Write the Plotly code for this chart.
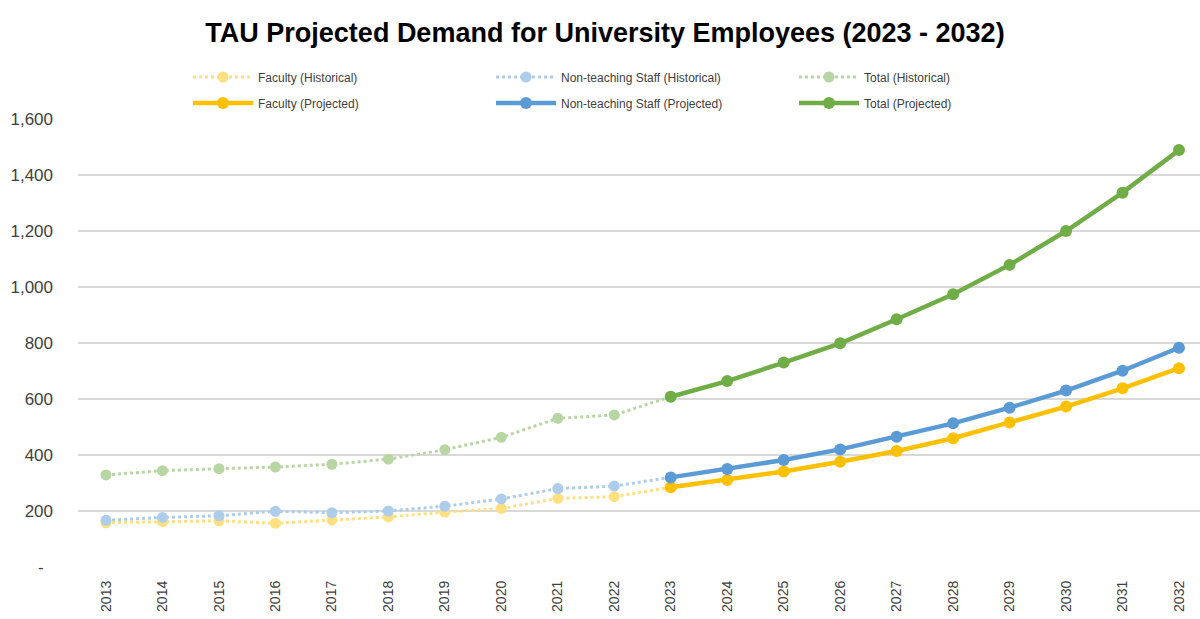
import plotly.graph_objects as go

# Years
years_hist = [2013, 2014, 2015, 2016, 2017, 2018, 2019, 2020, 2021, 2022, 2023]
years_proj = [2023, 2024, 2025, 2026, 2027, 2028, 2029, 2030, 2031, 2032]

# Historical headcounts (2013-2023)
faculty_hist = [158, 162, 165, 156, 168, 179, 196, 209, 245, 251, 285]
staff_hist = [167, 177, 183, 199, 194, 200, 217, 243, 280, 289, 320]
total_hist = [329, 344, 351, 357, 367, 385, 419, 463, 531, 543, 608]

# Projected headcounts (2023-2032)
faculty_proj = [285, 311, 341, 376, 414, 460, 516, 573, 638, 710]
staff_proj = [320, 350, 382, 420, 465, 513, 569, 630, 701, 783]
total_proj = [608, 664, 730, 799, 885, 974, 1079, 1200, 1337, 1489]

# Axis ticks
y_tickvals = [0, 200, 400, 600, 800, 1000, 1200, 1400, 1600]
y_ticktext = ["-\u00a0\u00a0", "200", "400", "600", "800", "1,000", "1,200", "1,400", "1,600"]
x_ticktext = [str(y) for y in range(2013, 2033)]

FONT = "Liberation Sans Narrow, Arial Narrow, Liberation Sans, Arial, sans-serif"

C_FAC, C_STF, C_TOT = "#FFC000", "#5B9BD5", "#70AD47"
C_FAC_L, C_STF_L, C_TOT_L = "#FFE080", "#ADCDEA", "#B8D6A3"

fig = go.Figure()

hist = [
    ("Faculty (Historical)", faculty_hist, C_FAC_L),
    ("Non-teaching Staff (Historical)", staff_hist, C_STF_L),
    ("Total (Historical)", total_hist, C_TOT_L),
]
for name, vals, col in hist:
    fig.add_trace(go.Scatter(
        x=years_hist, y=vals, name=name, mode="lines+markers",
        line=dict(color=col, width=3, dash="dot"),
        marker=dict(color=col, size=11, symbol="circle"),
        legend="legend",
    ))

proj = [
    ("Faculty (Projected)", faculty_proj, C_FAC),
    ("Non-teaching Staff (Projected)", staff_proj, C_STF),
    ("Total (Projected)", total_proj, C_TOT),
]
for name, vals, col in proj:
    fig.add_trace(go.Scatter(
        x=years_proj, y=vals, name=name, mode="lines+markers",
        line=dict(color=col, width=4.5),
        marker=dict(color=col, size=12, symbol="circle"),
        legend="legend2",
    ))

legend_common = dict(
    orientation="h", xref="container", yref="container",
    x=188 / 1200, xanchor="left", yanchor="middle",
    entrywidth=228, entrywidthmode="pixels", itemwidth=60,
    font=dict(family=FONT, size=12, color="#404040"),
    bgcolor="rgba(0,0,0,0)", traceorder="normal",
)

fig.update_layout(
    width=1200, height=619,
    paper_bgcolor="white", plot_bgcolor="white",
    margin=dict(l=78, r=0, t=119, b=52, autoexpand=False),
    title=dict(
        text="<b>TAU Projected Demand for University Employees (2023 - 2032)</b>",
        x=605 / 1200, xanchor="center", xref="container",
        y=1 - 33 / 619, yanchor="middle", yref="container",
        font=dict(family=FONT, size=27, color="#000000"),
    ),
    legend=dict(y=1 - 77 / 619, **legend_common),
    legend2=dict(y=1 - 103 / 619, **legend_common),
    font=dict(family=FONT, color="#404040"),
)

fig.update_xaxes(
    range=[2012.504, 2032.372], tickvals=list(range(2013, 2033)), ticktext=x_ticktext,
    tickangle=-90, showgrid=False, zeroline=False, showline=False,
    tickfont=dict(family=FONT, size=14, color="#404040"), ticklabelstandoff=10,
)
fig.update_yaxes(
    range=[0, 1600], tickvals=y_tickvals, ticktext=y_ticktext,
    showgrid=True, gridcolor="#D9D9D9", gridwidth=2, zeroline=False, showline=False,
    tickfont=dict(family=FONT, size=17, color="#404040"), ticklabelstandoff=24,
)

fig.write_html("out.html")
